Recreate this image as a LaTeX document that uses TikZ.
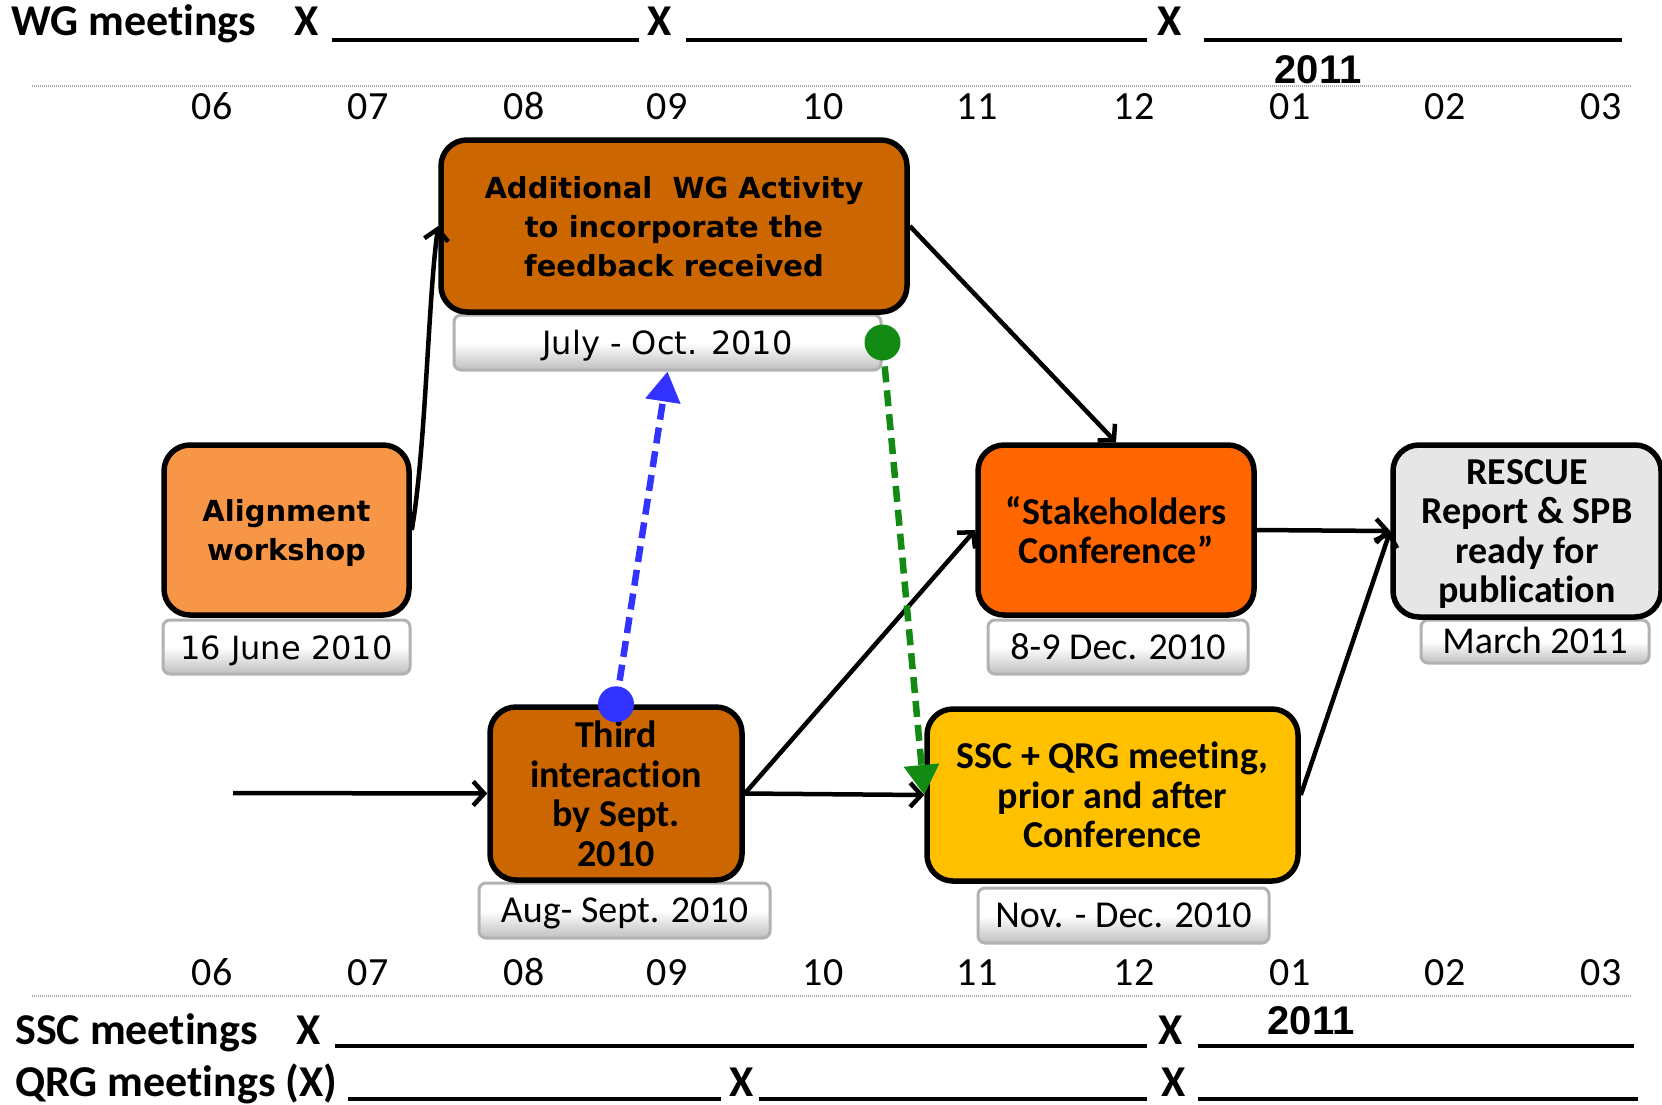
\documentclass[tikz,border=0pt]{standalone}
\usepackage{fontspec}
\setmainfont{Carlito}[Ligatures=NoCommon]
\newfontfamily\verd{DejaVu Sans}
\newfontfamily\arl{Liberation Sans}
\usetikzlibrary{arrows.meta}
\definecolor{brownbox}{HTML}{CC6600}
\definecolor{lightorange}{HTML}{F79646}
\definecolor{darkorange}{HTML}{FF6600}
\definecolor{goldbox}{HTML}{FFC000}
\definecolor{greybox}{HTML}{E6E6E6}
\definecolor{bluearr}{HTML}{3333FF}
\definecolor{greenarr}{HTML}{138A13}
\tikzset{
  mainbox/.style={draw=black, line width=5.5pt, rounded corners=26pt, align=center, inner sep=0pt,
    text depth=0pt, font=\fontsize{38}{39.5}\selectfont\bfseries},
  verdbox/.style={mainbox, font=\verd\fontsize{29}{39}\selectfont\bfseries},
  datebox/.style={draw=gray!60, line width=3pt, rounded corners=7pt, top color=white,
    bottom color=gray!50, middle color=white, inner sep=0pt, text height=24pt, text depth=0pt,
    font=\fontsize{38}{40}\selectfont},
  verddate/.style={datebox, font=\verd\fontsize{32}{40}\selectfont},
  arr/.style={line width=4.5pt, -{Straight Barb[length=11pt,width=24pt]}},
  dasharr/.style={line width=6.5pt, dash pattern=on 16pt off 8pt, -{Triangle[length=30pt,width=34pt]}},
  head/.style={font=\fontsize{44}{50}\selectfont\bfseries, inner sep=0pt},
  month/.style={font=\fontsize{40}{46}\selectfont, inner sep=0pt, anchor=base},
  yr/.style={font=\arl\fontsize{40}{46}\selectfont\bfseries, inner sep=0pt, anchor=base},
  rule/.style={line width=4.5pt},
  dots/.style={draw=gray!70, line width=1.2pt, dash pattern=on 1pt off 1pt}
}
\begin{document}
\begin{tikzpicture}[x=1pt,y=-1pt]
\useasboundingbox[fill=white] (0,0) rectangle (1662,1104);

% header rows
\node[head, anchor=base west] (wg) at (11,35) {WG meetings};
\node[head, anchor=base] (wgx1) at (307,35) {X};
\node[head, anchor=base] (wgx2) at (660,35) {X};
\node[head, anchor=base] (wgx3) at (1170,35) {X};
\draw[rule] (332,40) -- (639,40);
\draw[rule] (686,40) -- (1147,40);
\draw[rule] (1204,40) -- (1622,40);
\node[yr] (y1) at (1318,83) {2011};
\draw[dots] (32,86) -- (1632,86);

\foreach \m/\x in {06/212,07/368,08/524,09/667,10/823,11/977,12/1134,01/1290,02/1445,03/1601}{
  \node[month] (t\m) at (\x,119) {\m};
  \node[month] (b\m) at (\x,985) {\m};
}
\draw[dots] (32,996) -- (1632,996);

\node[head, anchor=base west] (ssc) at (15,1044) {SSC meetings};
\node[head, anchor=base] (sscx1) at (309,1044) {X};
\node[head, anchor=base] (sscx2) at (1171,1044) {X};
\draw[rule] (335,1046) -- (1147,1046);
\draw[rule] (1198,1046) -- (1634,1046);
\node[yr] (y2) at (1311,1034) {2011};

\node[head, anchor=base west] (qrg) at (15,1096) {QRG meetings (X)};
\node[head, anchor=base] (qrgx1) at (742,1096) {X};
\node[head, anchor=base] (qrgx2) at (1174,1096) {X};
\draw[rule] (348,1099) -- (721,1099);
\draw[rule] (759,1099) -- (1147,1099);
\draw[rule] (1198,1099) -- (1638,1099);

% date boxes
\node[verddate, minimum width=427pt, minimum height=55pt] (july) at (667.5,342.5) {July - Oct. 2010};
\node[verddate, minimum width=247pt, minimum height=54pt] (june) at (286.5,647) {16 June 2010};
\node[datebox, minimum width=291pt, minimum height=55pt] (aug) at (624.5,910.5) {Aug- Sept. 2010};
\node[datebox, minimum width=260pt, minimum height=54pt] (dec) at (1118,647) {8-9 Dec. 2010};
\node[datebox, minimum width=291pt, minimum height=55pt] (nov) at (1123.5,915.5) {Nov. - Dec. 2010};
\node[datebox, minimum width=228pt, minimum height=43pt] (march) at (1535,641.5) {March 2011};

% main boxes
\node[verdbox, fill=brownbox, minimum width=466pt, minimum height=172pt] (add) at (674,226)
  {Additional\ \ WG Activity\\to incorporate the\\feedback received};
\node[verdbox, fill=lightorange, minimum width=245pt, minimum height=170pt] (align) at (286.5,530)
  {Alignment\\workshop};
\node[mainbox, fill=brownbox, minimum width=252pt, minimum height=173pt] (third) at (616,793.5)
  {Third\\interaction\\by Sept.\\2010};
\node[mainbox, fill=darkorange, minimum width=276pt, minimum height=170pt] (stake) at (1116,530)
  {``Stakeholders\\Conference''};
\node[mainbox, fill=goldbox, minimum width=371pt, minimum height=172pt] (sscq) at (1112.5,795)
  {SSC + QRG meeting,\\prior and after\\Conference};
\node[mainbox, fill=greybox, minimum width=268pt, minimum height=172pt] (resc) at (1527,531)
  {RESCUE\\Report \& SPB\\ready for\\publication};

% connectors
\coordinate (start) at (233,793);
\draw[arr] (align.east) .. controls +(14,-80) and +(-10,70) .. (add.west);
\draw[arr] (add.east) -- (stake.north);
\draw[arr] (start) -- (third.west);
\draw[arr] (third.east) -- (stake.west);
\draw[arr] (third.east) -- (sscq.west);
\draw[arr] (stake.east) -- (resc.west);
\draw[arr] (sscq.east) -- (resc.west);

\draw[dasharr, bluearr] (third.north) -- (july.south);
\fill[bluearr] (third.north) circle (18pt);
\draw[dasharr, greenarr] (july.east) -- (sscq.west);
\fill[greenarr] (july.east) circle (18pt);
\end{tikzpicture}
\end{document}
